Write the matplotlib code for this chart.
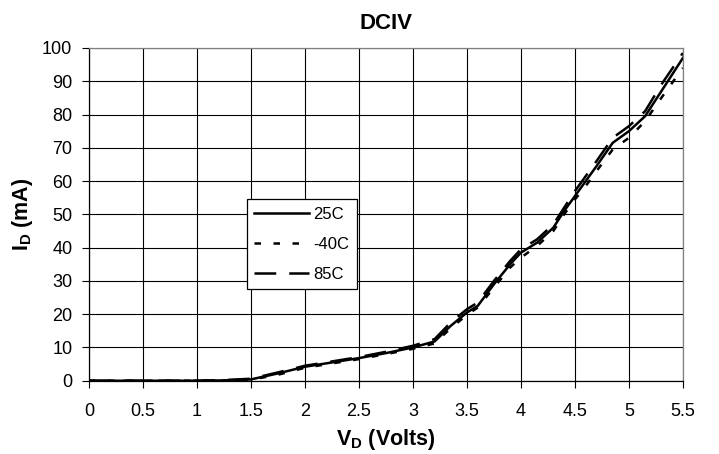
import matplotlib
matplotlib.use("Agg")
import matplotlib.pyplot as plt

plt.rcParams['font.family'] = ['Liberation Sans', 'DejaVu Sans']
plt.rcParams['mathtext.fontset'] = 'custom'
plt.rcParams['mathtext.rm'] = 'Liberation Sans:bold'
plt.rcParams['mathtext.default'] = 'rm'

v_25 = [0, 0.5, 1.0, 1.25, 1.5, 1.75, 2.0, 2.25, 2.5, 2.75, 3.0, 3.2, 3.35, 3.5, 3.6, 3.75, 3.9,
        4.0, 4.15, 4.3, 4.4, 4.5, 4.6, 4.7, 4.85, 5.0, 5.15, 5.3, 5.5]
i_25 = [0, 0, 0, 0.1, 0.4, 2.2, 4.2, 5.5, 6.8, 8.3, 10.0, 11.8, 16.5, 20.5, 22.5, 29, 35,
        38.5, 41.5, 46, 51, 55.5, 60, 64.5, 71.5, 75, 79.5, 87, 97]

v_m40 = [0, 0.5, 1.0, 1.25, 1.5, 1.75, 2.0, 2.25, 2.5, 2.75, 3.0, 3.2, 3.35, 3.5, 3.6, 3.75, 3.9,
         4.0, 4.15, 4.3, 4.4, 4.5, 4.6, 4.7, 4.85, 5.0, 5.15, 5.3, 5.5]
i_m40 = [0, 0, 0, 0.1, 0.3, 1.8, 3.9, 5.2, 6.5, 8.0, 9.6, 11.2, 15.8, 19.8, 22.0, 28, 34,
         37.0, 40.5, 45, 50, 54.5, 58.5, 63.0, 69.5, 73, 78.0, 85, 94]

v_85 = [0, 0.5, 1.0, 1.25, 1.5, 1.75, 2.0, 2.25, 2.5, 2.75, 3.0, 3.2, 3.35, 3.5, 3.6, 3.75, 3.9,
        4.0, 4.15, 4.3, 4.4, 4.5, 4.6, 4.7, 4.85, 5.0, 5.15, 5.3, 5.5]
i_85 = [0, 0, 0, 0.2, 0.6, 2.5, 4.5, 5.8, 7.1, 8.7, 10.5, 12.5, 17.5, 21.5, 23.5, 30, 36,
        39.5, 42.5, 47, 52, 57, 61.5, 66, 73, 76.5, 81, 89, 98.5]

x_ticks = [0, 0.5, 1, 1.5, 2, 2.5, 3, 3.5, 4, 4.5, 5, 5.5]
x_labels = ['0', '0.5', '1', '1.5', '2', '2.5', '3', '3.5', '4', '4.5', '5', '5.5']
y_ticks = [0, 10, 20, 30, 40, 50, 60, 70, 80, 90, 100]

fig = plt.figure(figsize=(7.19, 4.54), dpi=100)
ax = fig.add_axes([0.1238, 0.1614, 0.826, 0.7329])

lw = 1.8
ax.plot(v_25, i_25, color='black', lw=lw, label='25C')
ax.plot(v_m40, i_m40, color='black', lw=lw, dashes=(2.6, 5.0), label='-40C')
ax.plot(v_85, i_85, color='black', lw=lw, dashes=(8.7, 5.2), label='85C')

ax.set_xlim(0, 5.5)
ax.set_ylim(0, 100)
ax.set_xticks(x_ticks)
ax.set_xticklabels(x_labels)
ax.set_yticks(y_ticks)
ax.grid(True, color='black', lw=0.8)
ax.set_axisbelow(True)
ax.tick_params(axis='x', direction='out', length=5, width=0.8, labelsize=13, color='black', pad=11)
ax.tick_params(axis='y', direction='out', length=5, width=0.8, labelsize=13, color='black', pad=7)
for s in ['left', 'bottom']:
    ax.spines[s].set_color('black')
    ax.spines[s].set_linewidth(0.9)
for s in ['top', 'right']:
    ax.spines[s].set_color('#808080')
    ax.spines[s].set_linewidth(0.9)

ax.set_title('DCIV', fontsize=16, fontweight='bold', pad=14)
ax.set_xlabel('V$_{D}$ (Volts)', fontsize=15.5, fontweight='bold', labelpad=5)
ax.set_ylabel('I$_{D}$ (mA)', fontsize=15.5, fontweight='bold', labelpad=5)

leg = ax.legend(loc='upper left', bbox_to_anchor=(0.2655, 0.545),
                fontsize=12, frameon=True, fancybox=False, framealpha=1, edgecolor='black',
                handlelength=3.3, handletextpad=0.25, labelspacing=0.9, borderpad=0.45,
                borderaxespad=0)
leg.get_frame().set_linewidth(0.9)

fig.savefig('out.png', dpi=100)
